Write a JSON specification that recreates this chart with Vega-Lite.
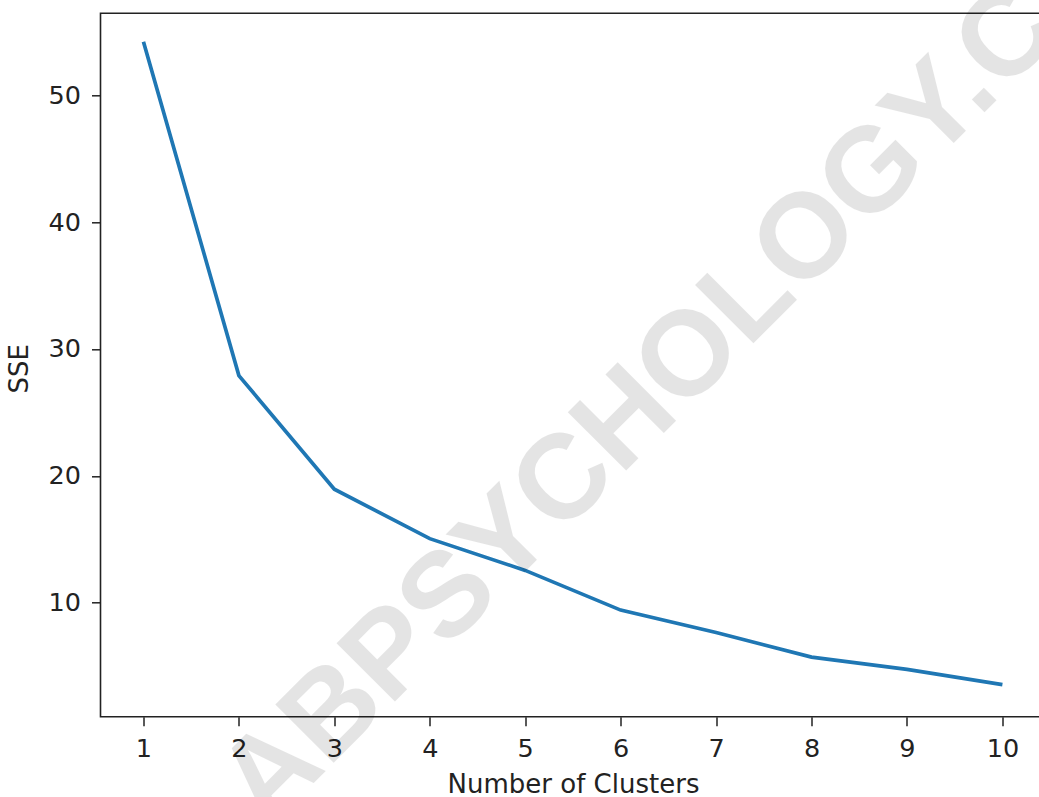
{
  "$schema": "https://vega.github.io/schema/vega-lite/v6.json",
  "width": 940,
  "height": 703.4,
  "autosize": {"type": "none"},
  "padding": {"left": 100.5, "top": 13.3, "right": 0, "bottom": 80.3},
  "background": "white",
  "config": {
    "view": {"stroke": "#222222", "strokeWidth": 1.6},
    "axis": {
      "grid": false,
      "domain": false,
      "tickColor": "#222222",
      "tickWidth": 1.5,
      "tickSize": 9,
      "labelFont": "DejaVu Sans",
      "labelFontSize": 25.5,
      "labelColor": "#222222",
      "titleFont": "DejaVu Sans",
      "titleFontSize": 26,
      "titleFontWeight": "normal",
      "titleColor": "#222222"
    }
  },
  "layer": [
    {
      "data": {
        "values": [
          {"clusters": 1, "sse": 54.2},
          {"clusters": 2, "sse": 27.9},
          {"clusters": 3, "sse": 18.95},
          {"clusters": 4, "sse": 15.05},
          {"clusters": 5, "sse": 12.55},
          {"clusters": 6, "sse": 9.42},
          {"clusters": 7, "sse": 7.65},
          {"clusters": 8, "sse": 5.72},
          {"clusters": 9, "sse": 4.75},
          {"clusters": 10, "sse": 3.55}
        ]
      },
      "mark": {"type": "line", "color": "#1f77b4", "strokeWidth": 3.7, "clip": true},
      "encoding": {
        "x": {
          "field": "clusters",
          "type": "quantitative",
          "scale": {"domain": [0.55, 10.399], "nice": false, "zero": false},
          "axis": {
            "values": [1, 2, 3, 4, 5, 6, 7, 8, 9, 10],
            "format": "d",
            "labelPadding": 11,
            "title": "Number of Clusters",
            "titleBaseline": "alphabetic",
            "titleY": 75.3,
            "titleX": 472.5
          }
        },
        "y": {
          "field": "sse",
          "type": "quantitative",
          "scale": {"domain": [1.02, 56.45], "nice": false, "zero": false},
          "axis": {
            "values": [10, 20, 30, 40, 50],
            "format": "d",
            "labelPadding": 11,
            "title": "SSE",
            "titleBaseline": "middle",
            "titleX": -81,
            "titleY": 355
          }
        }
      }
    },
    {
      "data": {
        "values": [
          {"clusters": 6.2, "sse": 25.5, "mark_text": "ABPSYCHOLOGY.C"}
        ]
      },
      "mark": {
        "type": "text",
        "font": "Liberation Sans",
        "fontWeight": "bold",
        "fontSize": 120,
        "angle": -45,
        "align": "center",
        "baseline": "middle",
        "fill": "#000000",
        "opacity": 0.1
      },
      "encoding": {
        "x": {"field": "clusters", "type": "quantitative"},
        "y": {"field": "sse", "type": "quantitative"},
        "text": {"field": "mark_text"}
      }
    }
  ]
}
